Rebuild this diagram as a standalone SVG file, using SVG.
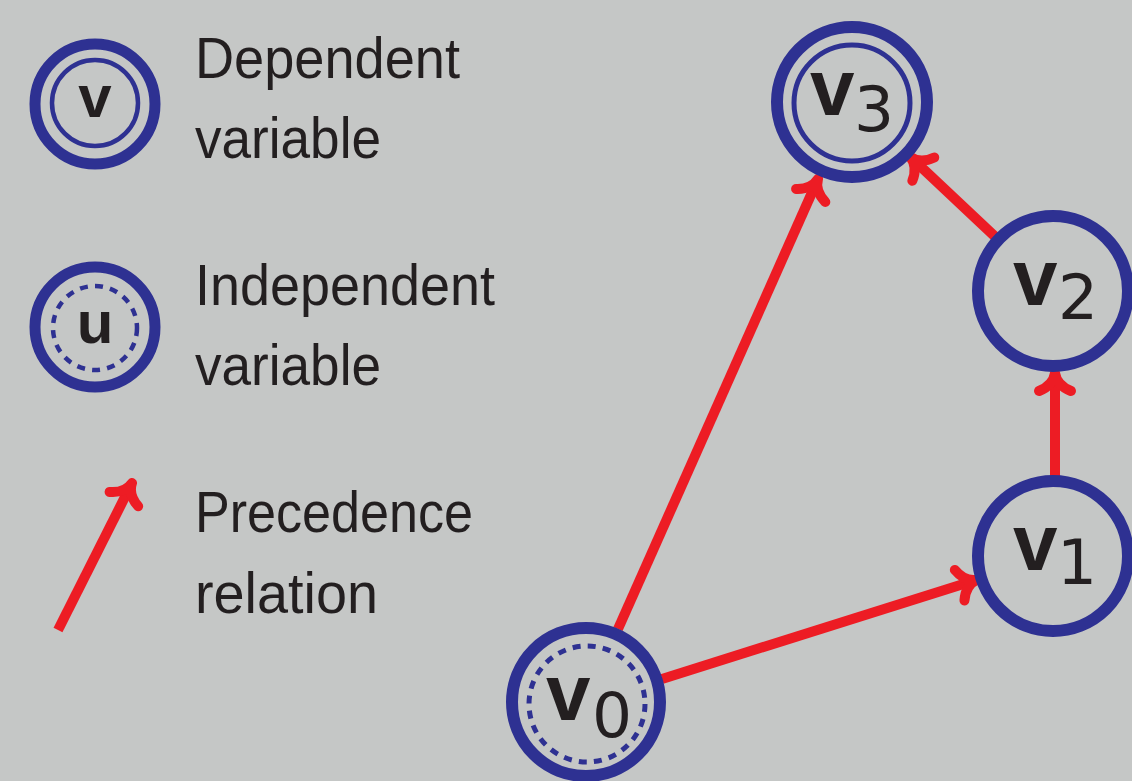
<svg xmlns="http://www.w3.org/2000/svg" width="1132" height="781" viewBox="0 0 1132 781">
<style>
.ring{fill:none;stroke:#2e3192;stroke-width:12}
.lring{fill:none;stroke:#2e3192;stroke-width:11}
.inner{fill:none;stroke:#2e3192;stroke-width:4.5}
.dash{fill:none;stroke:#2e3192;stroke-width:4.5;stroke-dasharray:8 7.2}
.edge{fill:none;stroke:#ed1c24;stroke-width:10;marker-end:url(#arr)}
.lbl{font-family:"Liberation Sans",Arial,sans-serif;font-weight:bold;fill:#231f20}
.sub{font-family:"DejaVu Sans",sans-serif;fill:#231f20}
.txt{font-family:"Liberation Sans",Arial,sans-serif;font-size:58px;fill:#231f20}
</style>
<defs>
<marker id="arr" markerUnits="userSpaceOnUse" viewBox="-20 -20 30 40" refX="0" refY="0" markerWidth="30" markerHeight="40" orient="auto" overflow="visible">
<path d="M -14 -16 C -10 -6 -3 -1 4 0 C -3 1 -10 6 -14 16" fill="none" stroke="#ed1c24" stroke-width="10" stroke-linecap="round" stroke-linejoin="round"/>
</marker>
</defs>
<rect width="1132" height="781" fill="#c5c7c6"/>
<g id="legend-dependent">
<circle class="lring" cx="95" cy="104" r="60"/>
<circle class="inner" cx="95" cy="103" r="43"/>
<text class="lbl" x="95" y="117" font-size="60" text-anchor="middle">v</text>
<text class="txt" x="195" y="78" textLength="265" lengthAdjust="spacingAndGlyphs">Dependent</text>
<text class="txt" x="195" y="158" textLength="186" lengthAdjust="spacingAndGlyphs">variable</text>
</g>
<g id="legend-independent">
<circle class="lring" cx="95" cy="327" r="60"/>
<circle class="dash" cx="95" cy="328" r="42"/>
<text class="lbl" x="95" y="343" font-size="60" text-anchor="middle">u</text>
<text class="txt" x="195" y="305" textLength="300" lengthAdjust="spacingAndGlyphs">Independent</text>
<text class="txt" x="195" y="385" textLength="186" lengthAdjust="spacingAndGlyphs">variable</text>
</g>
<g id="legend-precedence">
<text class="txt" x="195" y="532" textLength="278" lengthAdjust="spacingAndGlyphs">Precedence</text>
<text class="txt" x="195" y="613" textLength="183" lengthAdjust="spacingAndGlyphs">relation</text>
</g>
<g id="connectors">
<path class="edge" d="M 58 630 L 130.2 486.6"/>
<path class="edge" d="M 618 629 L 816.4 182.6"/>
<path class="edge" d="M 995.5 237 L 913.1 159.5"/>
<path class="edge" d="M 1055 476 L 1055 377"/>
<path class="edge" d="M 662 679 L 973 581"/>
</g>
<g id="v0">
<circle class="ring" cx="586" cy="702" r="74"/>
<circle class="dash" cx="587" cy="704" r="58" style="stroke-width:5"/>
<text class="lbl" x="546" y="720" font-size="80">v</text>
<text class="sub" x="592" y="737" font-size="63">0</text>
</g>
<g id="v1">
<circle class="ring" cx="1053" cy="556" r="75"/>
<text class="lbl" x="1013" y="570" font-size="80">v</text>
<text class="sub" x="1057" y="584" font-size="63">1</text>
</g>
<g id="v2">
<circle class="ring" cx="1053" cy="291" r="75"/>
<text class="lbl" x="1013" y="305" font-size="80">v</text>
<text class="sub" x="1058" y="319" font-size="63">2</text>
</g>
<g id="v3">
<circle class="ring" cx="852" cy="102" r="75"/>
<circle class="inner" cx="852" cy="103" r="58" style="stroke-width:5"/>
<text class="lbl" x="810" y="115" font-size="80">v</text>
<text class="sub" x="854" y="131" font-size="63">3</text>
</g>
</svg>
